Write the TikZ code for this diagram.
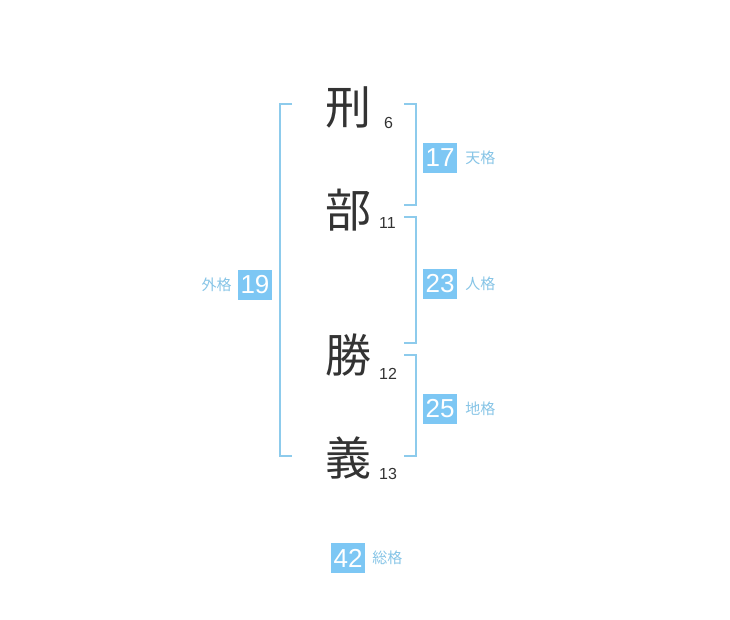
\documentclass[tikz,border=0pt]{standalone}
\usepackage{fontspec}
\setmainfont{Liberation Sans}
\newfontfamily\jpfont{Noto Sans CJK JP}
\usetikzlibrary{positioning}
\definecolor{kakublue}{HTML}{7DC7F4}
\definecolor{linblue}{HTML}{8DCBEC}
\definecolor{lblblue}{HTML}{86C4E6}
\definecolor{kanjigray}{HTML}{333333}

\begin{document}
\begin{tikzpicture}[x=1pt,y=-1pt,
  kanji/.style={text=kanjigray,font=\jpfont\fontsize{46}{46}\selectfont,inner sep=0pt},
  kakusu/.style={text=kanjigray,font=\fontsize{16}{16}\selectfont,inner sep=0pt,anchor=south west},
  numbox/.style={fill=kakublue,text=white,font=\fontsize{26}{26}\selectfont,
                 minimum width=34pt,minimum height=30pt,inner sep=0pt},
  kakulabel/.style={text=lblblue,font=\jpfont\fontsize{15}{15}\selectfont,inner sep=0pt},
  bracket/.style={draw=linblue,line width=2pt},
  ]
  \useasboundingbox (0,0) rectangle (730,620);

  % name characters and stroke counts
  \node [kanji] (kei) at (348,107) {刑};
  \node [kanji] (bu) at (348,210) {部};
  \node [kanji] (katsu) at (348,355) {勝};
  \node [kanji] (gi) at (348,458) {義};
  \node [kakusu] (keinum) at (384,129) {6};
  \node [kakusu] (bunum) at (379,229) {11};
  \node [kakusu] (katsunum) at (379,380) {12};
  \node [kakusu] (ginum) at (379,480) {13};

  % brackets
  \coordinate (gtop) at (280,104);  \coordinate (gbot) at (280,456);
  \coordinate (ttop) at (416,104);  \coordinate (tbot) at (416,205);
  \coordinate (jtop) at (416,217);  \coordinate (jbot) at (416,343);
  \coordinate (ctop) at (416,355);  \coordinate (cbot) at (416,456);
  \draw[bracket] ([xshift=12pt]gtop) -- (gtop) -- (gbot) -- ([xshift=12pt]gbot);
  \draw[bracket] ([xshift=-12pt]ttop) -- (ttop) -- (tbot) -- ([xshift=-12pt]tbot);
  \draw[bracket] ([xshift=-12pt]jtop) -- (jtop) -- (jbot) -- ([xshift=-12pt]jbot);
  \draw[bracket] ([xshift=-12pt]ctop) -- (ctop) -- (cbot) -- ([xshift=-12pt]cbot);

  % fortune numbers
  \node [numbox] (gaikaku) at (255,285) {19};
  \node [kakulabel,left=6pt of gaikaku] (gailbl) {外格};
  \node [numbox] (tenkaku) at (440,158) {17};
  \node [kakulabel,right=8pt of tenkaku] (tenlbl) {天格};
  \node [numbox] (jinkaku) at (440,284) {23};
  \node [kakulabel,right=8pt of jinkaku] (jinlbl) {人格};
  \node [numbox] (chikaku) at (440,409) {25};
  \node [kakulabel,right=8pt of chikaku] (chilbl) {地格};
  \node [numbox] (soukaku) at (348,558) {42};
  \node [kakulabel,right=7pt of soukaku] (soulbl) {総格};
\end{tikzpicture}
\end{document}
